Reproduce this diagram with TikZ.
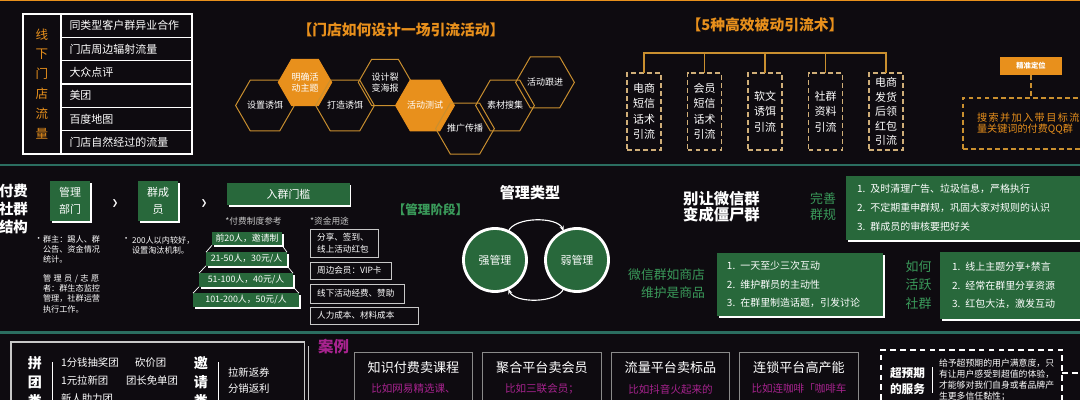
\documentclass[tikz,border=0pt]{standalone}
\usepackage{fontspec}
\setmainfont{Noto Sans CJK SC}
\newfontfamily\dingfont{DejaVu Sans}
\usetikzlibrary{arrows.meta, shapes.geometric, positioning, shadows, calc}
\definecolor{bgdark}{HTML}{0E0B10}
\definecolor{leadorange}{HTML}{E8901C}
\definecolor{hexline}{HTML}{C98F2F}
\definecolor{dashtan}{HTML}{CFAE78}
\definecolor{groupgreen}{HTML}{28683B}
\definecolor{labelgreen}{HTML}{3A9A5A}
\definecolor{rulegreen}{HTML}{2B6E60}
\definecolor{casepink}{HTML}{A8238F}
\definecolor{softgray}{HTML}{C8C8C8}
\definecolor{caseline}{HTML}{8A8A8A}
\newcommand{\fsz}[2]{\fontsize{#1}{#2}\selectfont}

\begin{document}
\begin{tikzpicture}[
  x=0.025cm, y=-0.025cm,
  every node/.style={text=white, inner sep=0pt, outer sep=0pt},
  cell/.style={draw=white, line width=0.8pt, minimum width=3.275cm,
               minimum height=0.5833cm, text width=2.85cm, inner xsep=0.21cm,
               align=left, font=\fsz{7.8}{9}},
  hexout/.style={regular polygon, regular polygon sides=6, minimum size=1.335cm,
                 draw=hexline, line width=0.7pt, align=center,
                 font=\fsz{6.4}{8.2}},
  hexfill/.style={hexout, fill=leadorange, draw=leadorange},
  headline/.style={text=leadorange, font=\fsz{10.5}{12}\bfseries},
  tipbox/.style={draw=dashtan, dashed, dash pattern=on 3.5pt off 2.2pt,
                 line width=0.8pt, minimum width=0.85cm, minimum height=1.925cm,
                 align=center, font=\fsz{7.8}{11}},
  tree/.style={draw=hexline, line width=0.9pt},
  gbox/.style={fill=groupgreen, drop shadow={fill=white, opacity=1,
               shadow xshift=1.4pt, shadow yshift=-1.4pt}},
  tier/.style={gbox, minimum height=0.34cm, font=\fsz{6.3}{7}},
  edge/.style={white, line width=0.5pt},
  fund/.style={draw=softgray, line width=0.6pt, anchor=west, inner xsep=0.18cm,
               align=left, font=\fsz{6.1}{8.5}},
  small/.style={anchor=west, align=left, text=white!88, font=\fsz{5.8}{6.9}},
  ring/.style={circle, fill=groupgreen, draw=white, line width=2pt,
               minimum size=1.575cm, font=\fsz{7.8}{9}},
  cyclearr/.style={-{Stealth[length=4pt]}, white, line width=0.8pt},
  greenlabel/.style={align=center, text=labelgreen, font=\fsz{9.2}{11.8}},
  listbox/.style={gbox, align=left, font=\fsz{7.1}{13.5}},
  item/.style={anchor=west, text=white!88, font=\fsz{7.4}{9}},
  vhead/.style={align=center, font=\fsz{10}{13.5}\bfseries},
  casebox/.style={draw=caseline, line width=0.7pt, minimum width=2.95cm,
                  minimum height=1.6cm, anchor=north},
  casetitle/.style={font=\fsz{9.3}{11}},
  casenote/.style={text=casepink, font=\fsz{7.5}{9}},
]

\clip (0,0) rectangle (1080,400);
\fill[bgdark] (0,0) rectangle (1080,400);
\draw[leadorange, line width=1pt] (0,0.6) -- (1080,0.6);

% ── Offline store traffic ────────────────────────────────────
\node[draw=white, line width=0.8pt, minimum width=0.95cm, minimum height=3.5cm,
      text=leadorange, align=center, font=\fsz{8.9}{14.2}] (offline) at (42,84)
  {线\\下\\门\\店\\流\\量};
\node[cell, anchor=north west] (row1) at (offline.north east) {同类型客户群异业合作};
\node[cell, below=0pt of row1] (row2) {门店周边辐射流量};
\node[cell, below=0pt of row2] (row3) {大众点评};
\node[cell, below=0pt of row3] (row4) {美团};
\node[cell, below=0pt of row4] (row5) {百度地图};
\node[cell, below=0pt of row5] (row6) {门店自然经过的流量};

% ── Activity design hexagons ─────────────────────────────────
\node[headline] (titlehex) at (401,30) {【门店如何设计一场引流活动】};

\node[hexout] (hexbait) at (265,105.5) {设置诱饵};
\node[hexfill] (hextheme) at (305,82.4) {明确活\\动主题};
\node[hexout] (hexlure) at (345,105.5) {打造诱饵};
\node[hexout] (hexposter) at (385,82.4) {设计裂\\变海报};
\node[hexfill] (hextest) at (425,105.5) {活动测试};
\node[hexout] (hexspread) at (465,128.6) {推广传播};
\node[hexout] (hexcollect) at (505,105.5) {素材搜集};
\node[hexout] (hexfollow) at (545,82.4) {活动跟进};

% ── Passive traffic tips ─────────────────────────────────────
\node[headline] (titletips) at (765,25) {【5种高效被动引流术】};

\node[tipbox] (tip1) at (644,111.5) {电商\\短信\\话术\\引流};
\node[tipbox] (tip2) at (704.5,111.5) {会员\\短信\\话术\\引流};
\node[tipbox] (tip3) at (765,111.5) {软文\\诱饵\\引流};
\node[tipbox] (tip4) at (825.5,111.5) {社群\\资料\\引流};
\node[tipbox, font=\fsz{7.8}{10.3}] (tip5) at (886,111.5)
  {电商\\发货\\后领\\红包\\引流};

\coordinate (tipbus) at (765,53);
\draw[tree] (tip1.north) -- (tip1.north |- tipbus) -- (tip5.north |- tipbus)
  -- (tip5.north);
\draw[tree] (tip2.north) -- (tip2.north |- tipbus);
\draw[tree] (tip3.north) -- (tip3.north |- tipbus);
\draw[tree] (tip4.north) -- (tip4.north |- tipbus);

\node[fill=leadorange, minimum width=1.55cm, minimum height=0.45cm,
      font=\fsz{5.2}{6}\bfseries] (pinpoint) at (1031,66) {精准定位};
\node[draw=hexline, dashed, dash pattern=on 3.5pt off 2.2pt, line width=0.8pt,
      anchor=north west, minimum height=1.275cm, text width=2.9cm,
      inner xsep=0.35cm, align=left, text=leadorange, font=\fsz{7.2}{7.8}]
  (qqgroup) at (963,98)
  {{\addfontfeature{LetterSpace=14}搜索并加入带目标流}\\量关键词的付费QQ群};
\draw[hexline, dashed, dash pattern=on 3.5pt off 2.2pt, line width=0.8pt]
  (pinpoint.south) -- (pinpoint.south |- qqgroup.north);

\draw[rulegreen, line width=1.6pt] (0,165) -- (1080,165);

% ── Paid group structure ─────────────────────────────────────
\node[anchor=west, align=left, font=\fsz{10.3}{12.8}\bfseries] (paidtitle)
  at (-1,209) {付费\\社群\\结构};

\node[gbox, minimum width=1cm, minimum height=1cm, align=center,
      font=\fsz{7.8}{12}] (admin) at (70,201) {管理\\部门};
\node[font=\dingfont\fsz{5.5}{6}\bfseries] (nextA) at (115,203) {❯};
\node[gbox, minimum width=1cm, minimum height=1cm, align=center,
      font=\fsz{7.8}{12}] (members) at (158,201) {群成\\员};
\node[font=\dingfont\fsz{5.5}{6}\bfseries] (nextB) at (204,203) {❯};
\node[gbox, minimum width=3.05cm, minimum height=0.55cm,
      font=\fsz{7.8}{9}] (entry) at (288.5,194) {入群门槛};

\node[small] (dotadmin) at (34.5,240) {•};
\node[small] (ownerrole) at (43,249.5) {群主：踢人、群\\公告、资金情况\\统计。};
\node[small, font=\fsz{5.8}{7.3}] (staffrole) at (43,293.5)
  {{\addfontfeature{LetterSpace=30}管理员/志愿}\\者：群生态监控\\管理，社群运营\\执行工作。};
\node[small] (dotmember) at (122,240) {•};
\node[small, font=\fsz{5.8}{7.1}] (memberrule) at (132,245)
  {200人以内较好，\\设置淘汰机制。};

\node[text=softgray, font=\fsz{6.2}{7}] (feenote) at (253.5,221) {*付费制度参考};
\node[anchor=west, text=softgray, font=\fsz{6.2}{7}] (fundnote) at (310,221) {*资金用途};

\node[tier, minimum width=1.75cm] (tier1) at (247,238.5) {前20人，邀请制};
\node[tier, minimum width=2.025cm] (tier2) at (246.5,259) {21-50人，30元/人};
\node[tier, minimum width=2.35cm] (tier3) at (246,280) {51-100人，40元/人};
\node[tier, minimum width=2.65cm] (tier4) at (246,300) {101-200人，50元/人};
\draw[edge] (tier1.south west) -- (tier2.north west);
\draw[edge] (tier2.south west) -- (tier3.north west);
\draw[edge] (tier3.south west) -- (tier4.north west);
\draw[edge] (tier1.south east) -- (tier2.north east);
\draw[edge] (tier2.south east) -- (tier3.north east);
\draw[edge] (tier3.south east) -- (tier4.north east);

\node[fund, text width=1.36cm, minimum height=0.7cm] (fundshare) at (310,243)
  {分享、签到、\\线上活动红包};
\node[fund, text width=1.67cm, minimum height=0.425cm] (fundvip) at (310,270.5)
  {周边会员：VIP卡};
\node[fund, text width=1.99cm, minimum height=0.475cm] (fundevent) at (310,293.5)
  {线下活动经费、赞助};
\node[fund, text width=2.34cm, minimum height=0.425cm] (fundcost) at (310,315.5)
  {人力成本、材料成本};

% ── Management stage ─────────────────────────────────────────
\node[text=labelgreen, font=\fsz{8.9}{10}\bfseries] (stage) at (430.5,210) {【管理阶段】};
\node[font=\fsz{10.7}{12}\bfseries] (mgmttype) at (530,193) {管理类型};

\node[ring] (strongmgmt) at (495,260) {强管理};
\node[ring] (weakmgmt) at (577,260) {弱管理};
\draw[cyclearr] (strongmgmt.65) .. controls ($(strongmgmt.65)+(6,-15)$)
  and ($(weakmgmt.115)+(-6,-15)$) .. (weakmgmt.115);
\draw[cyclearr] (weakmgmt.-115) .. controls ($(weakmgmt.-115)+(-6,15)$)
  and ($(strongmgmt.-65)+(6,15)$) .. (strongmgmt.-65);

% ── Keep the group alive ─────────────────────────────────────
\node[align=center, font=\fsz{10.9}{11.3}\bfseries] (nozombie) at (721.5,207)
  {别让微信群\\变成僵尸群};
\node[greenlabel] (rulestitle) at (823,206.5) {完善\\群规};
\node[listbox, anchor=west, minimum height=1.6cm, text width=5.6cm,
      inner xsep=0.275cm] (rulesbox) at (846,208)
  {1. 及时清理广告、垃圾信息，严格执行\\2. 不定期重申群规，巩固大家对规则的认识\\3. 群成员的审核要把好关};

\node[anchor=east, align=right, text=labelgreen, font=\fsz{9.1}{12.8}]
  (shoptitle) at (705,284) {微信群如商店\\维护是商品};
\node[listbox, minimum width=4.15cm, minimum height=1.575cm, text width=3.65cm,
      inner xsep=0.25cm, font=\fsz{7.1}{13.2}] (shopbox) at (800,284.5)
  {1. 一天至少三次互动\\2. 维护群员的主动性\\3. 在群里制造话题，引发讨论};

\node[greenlabel, font=\fsz{9.2}{13}] (activetitle) at (918.5,285) {如何\\活跃\\社群};
\node[listbox, anchor=west, minimum height=1.675cm, text width=3.5cm,
      inner xsep=0.3cm, font=\fsz{7.1}{13}] (activebox) at (940,285.5)
  {1. 线上主题分享+禁言\\2. 经常在群里分享资源\\3. 红包大法，激发互动};

\draw[rulegreen, line width=1.6pt] (0,332.5) -- (1080,332.5);

% ── Promotion types ──────────────────────────────────────────
\node[draw=softgray, line width=0.8pt, anchor=north west, minimum width=7.325cm,
      minimum height=2.2cm] (promo) at (11,342) {};
\draw[softgray, line width=0.6pt] ($(promo.north east)+(4,4)$)
  -- ($(promo.south east)+(4,4)$);

\node[vhead] (groupbuy) at (35,382) {拼\\团\\类};
\draw[white, line width=0.6pt] (52,362) -- (52,405);
\node[item] (lottery) at (61,363) {1分钱抽奖团};
\node[item] (bargain) at (135,363) {砍价团};
\node[item] (newbie) at (61,381) {1元拉新团};
\node[item] (leaderfree) at (126,381) {团长免单团};
\node[item] (helper) at (61,398.5) {新人助力团};

\node[vhead] (invite) at (201,382) {邀\\请\\类};
\draw[white, line width=0.6pt] (218,362) -- (218,405);
\node[item] (coupon) at (228,373) {拉新返券};
\node[item] (rebate) at (228,389) {分销返利};

% ── Cases ────────────────────────────────────────────────────
\node[text=casepink, font=\fsz{11}{12}\bfseries] (casehead) at (333.5,347) {案例};

\node[casebox] (case1) at (413.5,352) {};
\node[casetitle] (case1t) at (413.5,368) {知识付费卖课程};
\node[casenote] (case1n) at (413.5,389) {比如网易精选课、};

\node[casebox] (case2) at (542,352) {};
\node[casetitle] (case2t) at (542,368) {聚合平台卖会员};
\node[casenote] (case2n) at (542,389) {比如三联会员；};

\node[casebox] (case3) at (670.5,352) {};
\node[casetitle] (case3t) at (670.5,368) {流量平台卖标品};
\node[casenote] (case3n) at (670.5,389) {比如抖音火起来的};

\node[casebox] (case4) at (799,352) {};
\node[casetitle] (case4t) at (799,368) {连锁平台高产能};
\node[casenote] (case4n) at (799,388) {比如连咖啡「咖啡车};

% ── Beyond-expectation service ───────────────────────────────
\node[draw=white!85, dashed, dash pattern=on 4pt off 3pt, line width=0.8pt,
      anchor=north west, minimum width=4.525cm, minimum height=1.9cm]
  (servicebox) at (881,350) {};
\node[align=center, font=\fsz{8.3}{11.4}\bfseries] (servicehead) at (907.5,381)
  {超预期\\的服务};
\draw[white, line width=0.6pt] (932,367) -- (932,393);
\node[anchor=west, align=left, text=white!88, font=\fsz{6.3}{7.8}] (servicetext)
  at (939,379.5)
  {给予超预期的用户满意度，只\\有让用户感受到超值的体验，\\才能够对我们自身或者品牌产\\生更多信任黏性；};
\coordinate (offright) at (1085,373);
\draw[white!85, dashed, dash pattern=on 4pt off 3pt, line width=0.8pt]
  (servicebox.east |- offright) -- (offright);

\end{tikzpicture}
\end{document}
